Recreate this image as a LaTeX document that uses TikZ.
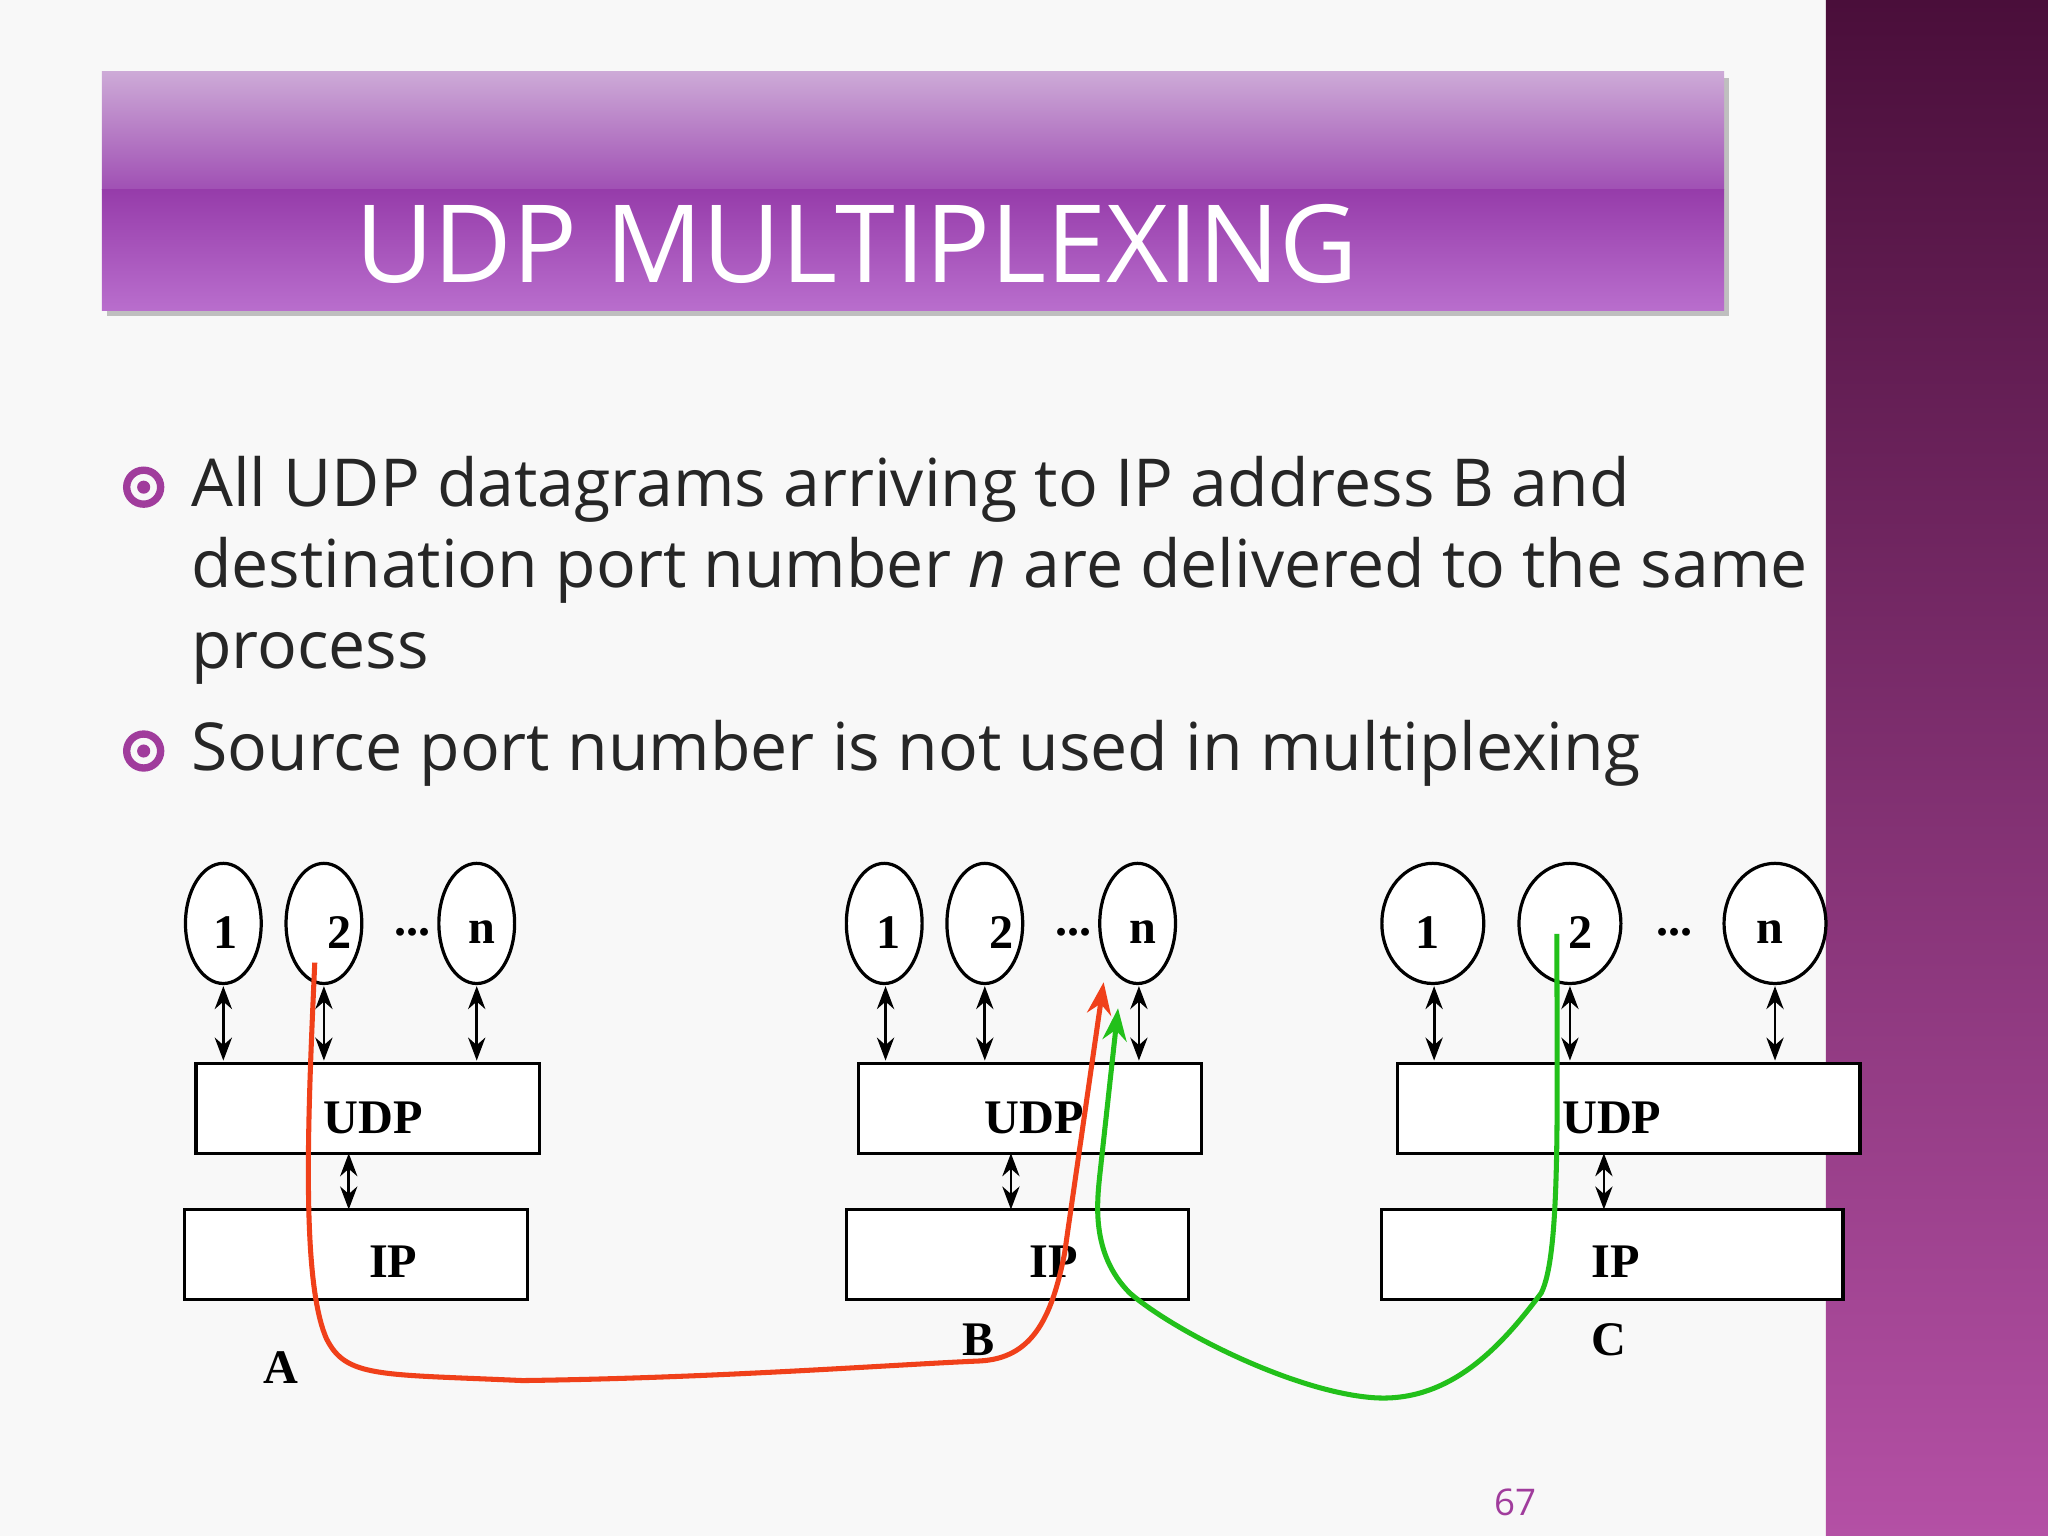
\documentclass[tikz,border=0pt]{standalone}
\usepackage{fontspec}
\setmainfont{Liberation Serif}
\newfontfamily\ttl{Open Sans}
\usetikzlibrary{arrows.meta}
\definecolor{bg}{HTML}{F8F8F8}
\definecolor{bul}{HTML}{A03C9C}
\definecolor{redc}{HTML}{F0401A}
\definecolor{grnc}{HTML}{22C01A}
\tikzset{
 proc/.style={draw,line width=0.7pt,fill=white},
 layer/.style={draw,line width=0.7pt,fill=white,anchor=north west},
 lbl/.style={font=\bfseries\fontsize{10.5}{12}\selectfont},
 dbl/.style={{Stealth[length=5pt]}-{Stealth[length=5pt]},line width=0.6pt},
 btxt/.style={anchor=base west,font=\ttl\fontsize{14.4}{17}\selectfont,text=black!85},
 bring/.style={circle,draw=bul,line width=1.6pt,minimum size=0.26cm,inner sep=0pt},
 bdot/.style={circle,fill=bul,minimum size=0.1cm,inner sep=0pt},
}
\begin{document}
\begin{tikzpicture}[x=0.01cm,y=-0.01cm]
\useasboundingbox (0,0) rectangle (1568,1176);
\fill[bg] (0,0) rectangle (1398,1176);
\shade[top color={rgb,255:red,74;green,14;blue,58}, bottom color={rgb,255:red,180;green,80;blue,165}] (1398,0) rectangle (1568,1176);
% title bar
\fill[black!25] (82,60) rectangle (1324,242);
\shade[top color={rgb,255:red,205;green,170;blue,215},bottom color={rgb,255:red,160;green,80;blue,180}] (78,55) rectangle (1320,145);
\shade[top color={rgb,255:red,150;green,60;blue,170},bottom color={rgb,255:red,185;green,110;blue,205}] (78,145) rectangle (1320,238);
\node[text=white,font=\ttl\fontsize{23.5}{28}\selectfont] (title) at (656,187) {UDP MULTIPLEXING};
% bullets
\node[bring] (b1) at (110,373) {}; \node[bdot] (b1d) at (b1) {};
\node[bring] (b2) at (110,575) {}; \node[bdot] (b2d) at (b2) {};
\node[btxt] (t1) at (134,388) {All UDP datagrams arriving to IP address B and};
\node[btxt] (t2) at (134,450) {destination port number \textit{n} are delivered to the same};
\node[btxt] (t3) at (134,512) {process};
\node[btxt] (t4) at (134,590) {Source port number is not used in multiplexing};
% processes
\foreach \n/\x/\r/\t in {a1/171/29/1,a2/248/29/2,an/365/29/n,b1/677/29/1,b2/754/29/2,bn/871/29/n,c1/1097/39/1,c2/1202/39/2,cn/1359/39/n}{
 \draw[proc] (\x,707) ellipse ({\r} and 46);
 \coordinate (\n) at (\x,755);
}
\foreach \x/\t in {173/1,260/2,369/n,680/1,767/2,875/n,1093/1,1210/2,1355/n}
 \node[lbl] at (\x,714) {\t};
\foreach \x in {316,822,1282} \node[lbl] at (\x,714) {...};
% layers
\draw[layer] (150,814) rectangle (413,883); \node[lbl] (udpa) at (286,856) {UDP};
\draw[layer] (657,814) rectangle (920,883); \node[lbl] (udpb) at (792,856) {UDP};
\draw[layer] (1070,814) rectangle (1424,883); \node[lbl] (udpc) at (1234,856) {UDP};
\draw[layer] (141,926) rectangle (404,995); \node[lbl] (ipa) at (301,966) {IP};
\draw[layer] (648,926) rectangle (910,995); \node[lbl] (ipb) at (807,966) {IP};
\draw[layer] (1058,926) rectangle (1411,995); \node[lbl] (ipc) at (1237,966) {IP};
\foreach \x in {171,248,365,678,754,872,1098,1202,1359} \draw[dbl] (\x,755) -- (\x,812);
\foreach \x in {267,774,1228} \draw[dbl] (\x,883) -- (\x,926);
\node[lbl] (la) at (215,1047) {A};
\node[lbl] (lb) at (749,1026) {B};
\node[lbl] (lc) at (1232,1026) {C};
% paths
\draw[redc,line width=1.1pt,-{Stealth[length=7pt]}] (241,737) .. controls (236,850) and (230,980) .. (250,1025) .. controls (265,1055) and (290,1052) .. (400,1057) .. controls (550,1055) and (680,1045) .. (750,1042) .. controls (790,1040) and (805,1010) .. (815,960) -- (845,752);
\draw[grnc,line width=1.1pt,-{Stealth[length=7pt]}] (1192,715) .. controls (1192,850) and (1195,960) .. (1180,990) .. controls (1150,1030) and (1110,1075) .. (1050,1070) .. controls (990,1065) and (900,1020) .. (865,990) .. controls (835,960) and (840,920) .. (842,900) -- (856,772);
\node[text=bul,font=\ttl\fontsize{8}{9}\selectfont] (pg) at (1160,1150) {67};
\end{tikzpicture}
\end{document}
